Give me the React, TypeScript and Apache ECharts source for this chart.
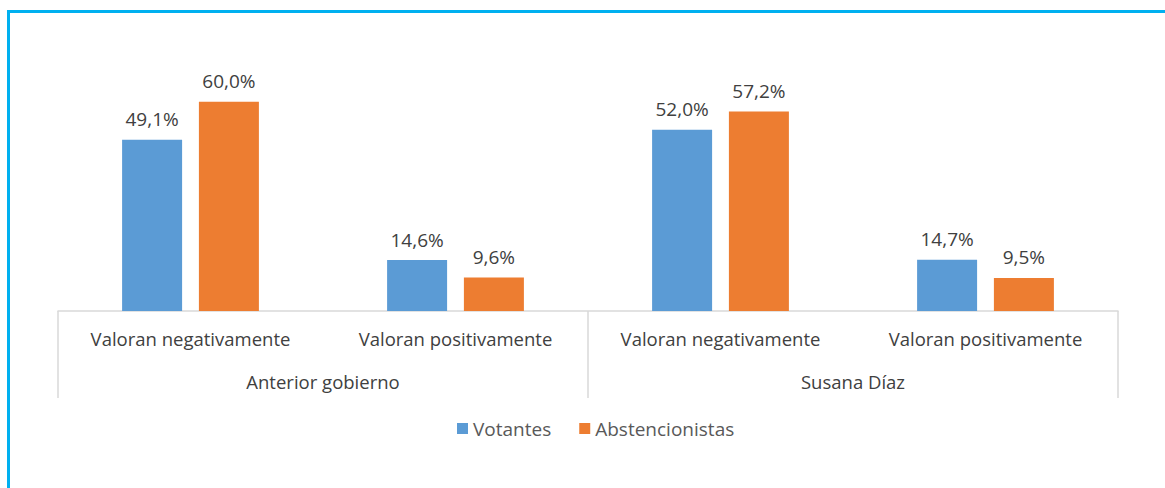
import React, { useEffect, useRef } from "react";
import * as echarts from "echarts";

const categories = ["Valoran negativamente", "Valoran positivamente", "Valoran negativamente", "Valoran positivamente"];
const groups = ["Anterior gobierno", "Susana Díaz"];
const votantes = [49.1, 14.6, 52.0, 14.7];
const abstencionistas = [60.0, 9.6, 57.2, 9.5];
const seriesNames = ["Votantes", "Abstencionistas"];

const FONT = "'Open Sans', sans-serif";
const TXT = "#404040";

export default function App() {
  const ref = useRef<HTMLDivElement>(null);
  useEffect(() => {
    document.body.style.margin = "0";
    const chart = echarts.init(ref.current!, undefined, { renderer: "svg" });
    const fmt = (p: any) => p.value.toFixed(1).replace(".", ",") + "%";
    chart.setOption({
      animation: false,
      textStyle: { fontFamily: FONT },
      grid: { left: 58, right: 47, top: 67, bottom: 177 },
      legend: {
        bottom: 45,
        left: 452,
        icon: "rect",
        itemWidth: 11,
        itemHeight: 11,
        itemGap: 28,
        itemTextGap: 6,
        textStyle: { color: "#595959", fontSize: 19, fontFamily: FONT },
        data: seriesNames,
      },
      xAxis: [
        {
          type: "category",
          data: categories,
          axisLine: { show: true, lineStyle: { color: "#d9d9d9", width: 1.5 } },
          axisTick: { show: false },
          axisLabel: { color: TXT, fontSize: 18.5, margin: 18, fontFamily: FONT, interval: 0 },
        },
        {
          type: "category",
          data: groups,
          position: "bottom",
          axisLine: { show: false },
          axisTick: { show: true, length: 87, lineStyle: { color: "#d9d9d9", width: 1.5 } },
          axisLabel: { color: TXT, fontSize: 18.5, margin: 61, fontFamily: FONT, interval: 0 },
        },
      ],
      yAxis: { type: "value", min: 0, max: 70, show: false, splitLine: { show: false } },
      series: [
        {
          name: seriesNames[0],
          type: "bar",
          data: votantes,
          barWidth: 60,
          barGap: "28%",
          itemStyle: { color: "#5B9BD5" },
          label: { show: true, position: "top", distance: 11, color: TXT, fontSize: 19, fontFamily: FONT, formatter: fmt },
        },
        {
          name: seriesNames[1],
          type: "bar",
          data: abstencionistas,
          barWidth: 60,
          barGap: "28%",
          itemStyle: { color: "#ED7D31" },
          label: { show: true, position: "top", distance: 11, color: TXT, fontSize: 19, fontFamily: FONT, formatter: fmt },
        },
      ],
    });
    return () => chart.dispose();
  }, []);
  return (
    <div style={{ position: "relative", width: 1165, height: 488, background: "#fff", overflow: "hidden" }}>
      <div ref={ref} style={{ position: "absolute", left: 0, top: 0, width: 1165, height: 488 }} />
      <div
        style={{
          position: "absolute",
          left: 7,
          top: 10,
          right: 0,
          bottom: 0,
          borderTop: "3px solid #00B0F0",
          borderLeft: "3px solid #00B0F0",
          pointerEvents: "none",
        }}
      />
    </div>
  );
}
